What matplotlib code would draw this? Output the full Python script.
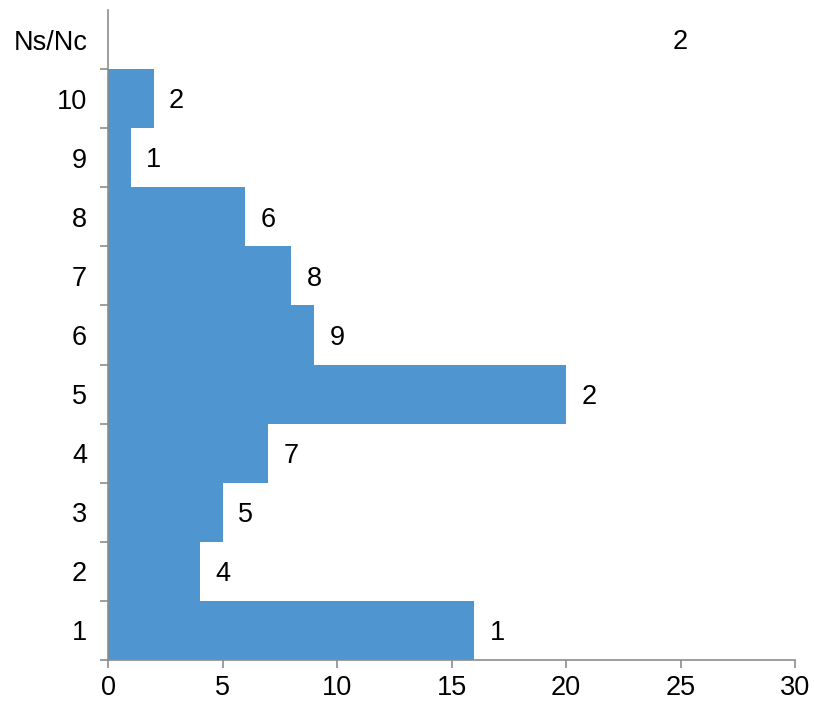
import numpy as np
import matplotlib.pyplot as plt

plt.rcParams['font.family'] = ['Liberation Sans', 'DejaVu Sans']

# categories from bottom to top
categorias = ['1', '2', '3', '4', '5', '6', '7', '8', '9', '10', 'Ns/Nc']
valores = [16, 4, 5, 7, 20, 9, 8, 6, 1, 2, 24]
etiquetas = ['1', '4', '5', '7', '2', '9', '8', '6', '1', '2', '2']
visible = [True] * 10 + [False]

azul = '#4f96d0'
gris = '#8c8c8c'

fig = plt.figure(figsize=(8.14, 7.03), dpi=100)
ax = fig.add_axes([0.1327, 0.0612, 0.844, 0.9246])

y = np.arange(len(categorias))
colores = [azul if v else 'none' for v in visible]
ax.barh(y, valores, height=1.0, color=colores, edgecolor='none')

for yi, v, t in zip(y, valores, etiquetas):
    ax.annotate(t, (v, yi), xytext=(11, -2), textcoords='offset points',
                ha='left', va='center', fontsize=19.5, color='black')

ax.set_xlim(0, 30)
ax.set_ylim(-0.5, len(categorias) - 0.5)
ax.set_xticks(np.arange(0, 31, 5))
ax.set_yticks(y)
ax.set_yticklabels(categorias)
ax.set_yticks(np.arange(-0.5, len(categorias) - 0.5, 1), minor=True)

for s in ['top', 'right']:
    ax.spines[s].set_visible(False)
for s in ['left', 'bottom']:
    ax.spines[s].set_color(gris)
    ax.spines[s].set_linewidth(1.2)

ax.tick_params(axis='y', which='major', length=0, pad=15, labelsize=19.5)
ax.tick_params(axis='y', which='minor', length=6, color=gris, width=1.2)
ax.tick_params(axis='x', length=6, color=gris, width=1.2, pad=5, labelsize=19.5)

fig.savefig('out.png', dpi=100)
